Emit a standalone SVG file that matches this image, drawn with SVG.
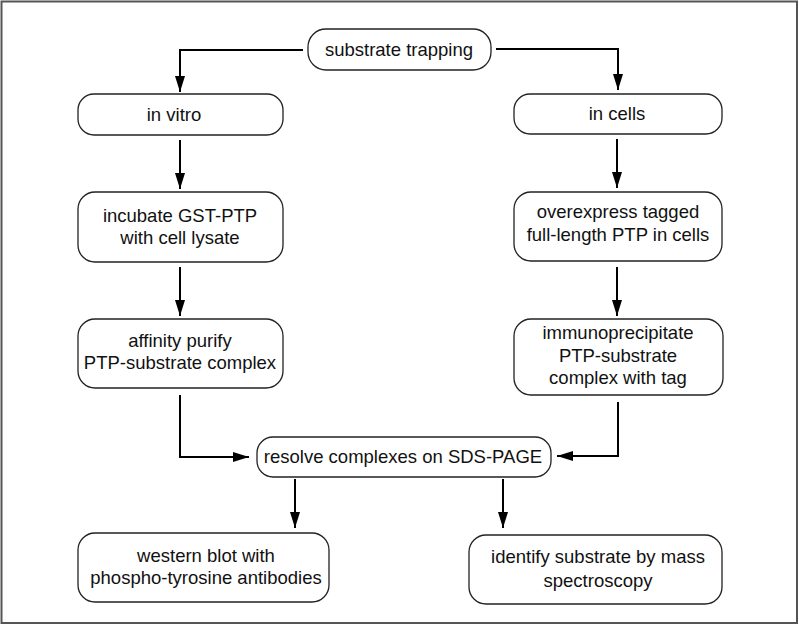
<svg xmlns="http://www.w3.org/2000/svg" width="799" height="625" viewBox="0 0 799 625">
<defs>
<marker id="ah" viewBox="0 0 16 10" refX="16" refY="5" markerWidth="16" markerHeight="10" markerUnits="userSpaceOnUse" orient="auto">
<path d="M0,0 L16,5 L0,10 Z" fill="#000"/>
</marker>
<style>
.box{fill:#fff;stroke:#222;stroke-width:1.3}
.t{font-family:"Liberation Sans",Arial,Helvetica,sans-serif;font-size:18.5px;fill:#111;text-anchor:middle}
.c{fill:none;stroke:#000;stroke-width:2;marker-end:url(#ah)}
</style>
</defs>
<rect x="0" y="0" width="799" height="625" fill="#fff"/>
<rect x="1.5" y="1.5" width="795.5" height="621.5" fill="none" stroke="#555" stroke-width="2"/>
<g id="connectors">
<path class="c" d="M303,50 H180 V92"/>
<path class="c" d="M496,49 H618 V90"/>
<path class="c" d="M180,140 V189"/>
<path class="c" d="M617,139 V188"/>
<path class="c" d="M180,267 V316"/>
<path class="c" d="M617,267 V316"/>
<path class="c" d="M180,395 V457 H249"/>
<path class="c" d="M618,402 V456 H557"/>
<path class="c" d="M295,479 V528"/>
<path class="c" d="M503,479 V528"/>
</g>
<g id="n-trap">
<rect class="box" x="308" y="29" width="183" height="41" rx="18"/>
<text class="t" x="399" y="56">substrate trapping</text>
</g>
<g id="n-vitro">
<rect class="box" x="78" y="94" width="205" height="41" rx="16"/>
<text class="t" x="174" y="121">in vitro</text>
</g>
<g id="n-cells">
<rect class="box" x="514" y="94" width="208" height="40" rx="16"/>
<text class="t" x="617" y="120">in cells</text>
</g>
<g id="n-incubate">
<rect class="box" x="78" y="192" width="205" height="70" rx="17"/>
<text class="t" x="180" y="222">incubate GST-PTP</text>
<text class="t" x="180" y="244">with cell lysate</text>
</g>
<g id="n-overexpress">
<rect class="box" x="514" y="192" width="208" height="69" rx="17"/>
<text class="t" x="618" y="218">overexpress tagged</text>
<text class="t" x="618" y="241">full-length PTP in cells</text>
</g>
<g id="n-affinity">
<rect class="box" x="78" y="319" width="205" height="69" rx="17"/>
<text class="t" x="180" y="347">affinity purify</text>
<text class="t" x="180" y="369">PTP-substrate complex</text>
</g>
<g id="n-immuno">
<rect class="box" x="514" y="319" width="209" height="76" rx="17"/>
<text class="t" x="618" y="339">immunoprecipitate</text>
<text class="t" x="618" y="362">PTP-substrate</text>
<text class="t" x="618" y="384">complex with tag</text>
</g>
<g id="n-resolve">
<rect class="box" x="257" y="437" width="294" height="40" rx="16"/>
<text class="t" x="403" y="463">resolve complexes on SDS-PAGE</text>
</g>
<g id="n-western">
<rect class="box" x="78" y="533" width="251" height="69" rx="17"/>
<text class="t" x="206" y="562">western blot with</text>
<text class="t" x="206" y="584">phospho-tyrosine antibodies</text>
</g>
<g id="n-identify">
<rect class="box" x="469" y="535" width="253" height="69" rx="17"/>
<text class="t" x="598" y="563">identify substrate by mass</text>
<text class="t" x="598" y="587">spectroscopy</text>
</g>
</svg>
